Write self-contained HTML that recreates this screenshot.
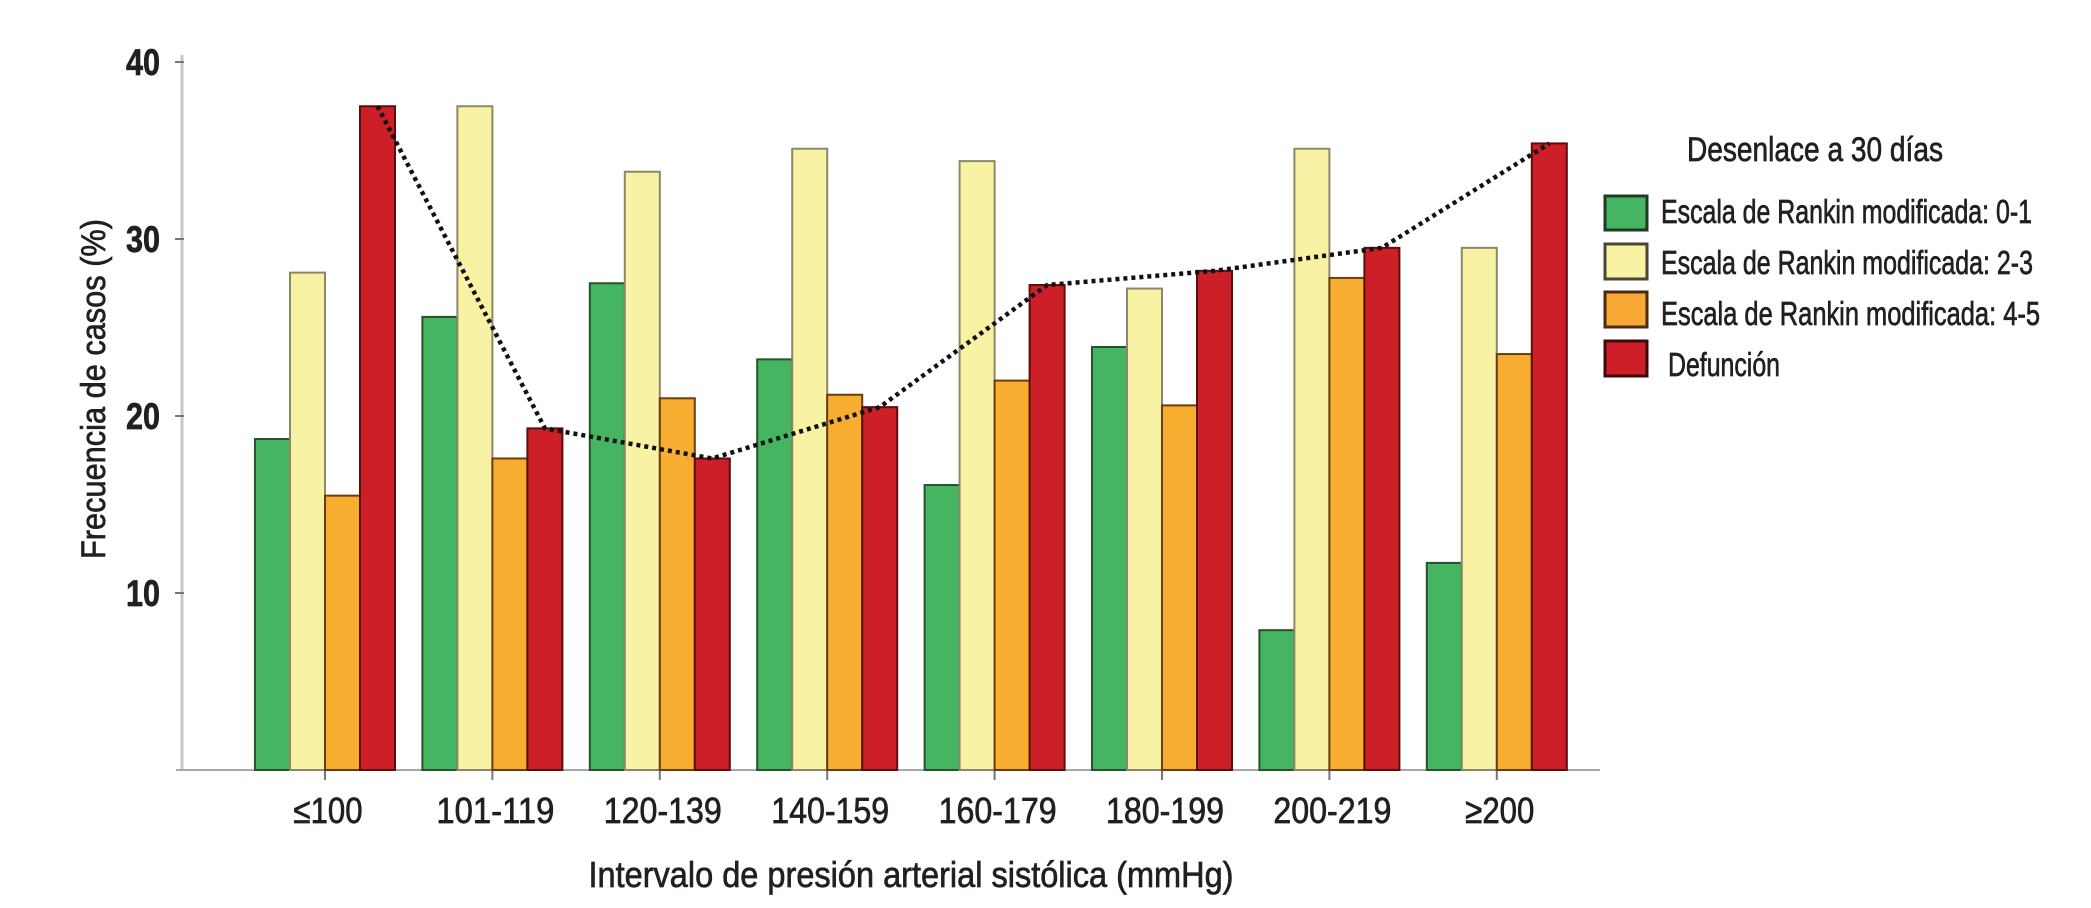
<!DOCTYPE html>
<html><head><meta charset="utf-8"><style>
html,body{margin:0;padding:0;background:#fff;}
svg{display:block;}
text{font-family:"Liberation Sans Narrow","Liberation Sans",sans-serif;fill:#231f20;stroke:#231f20;stroke-width:0.7px;}
</style></head><body>
<svg id="chart" width="2091" height="908" viewBox="0 0 2091 908" xmlns="http://www.w3.org/2000/svg">
<g id="axes"></g>
<g id="bars"></g>
<g id="labels"></g>
<g id="trend"></g>
<g id="legend">
  <text x="1687" y="161" font-size="34" textLength="256" lengthAdjust="spacingAndGlyphs">Desenlace a 30 días</text>
  <rect x="1605" y="196" width="42" height="34" fill="#45b562" stroke="#1f3a22" stroke-width="3"/>
  <rect x="1605" y="244" width="42" height="35" fill="#f8f2a4" stroke="#4a4534" stroke-width="3"/>
  <rect x="1605" y="292" width="42" height="35" fill="#f7a934" stroke="#4a2a10" stroke-width="3"/>
  <rect x="1605" y="341" width="42" height="35" fill="#cc1f27" stroke="#3a0a0a" stroke-width="3"/>
  <text x="1661" y="223" font-size="33" textLength="371" lengthAdjust="spacingAndGlyphs">Escala de Rankin modificada: 0-1</text>
  <text x="1661" y="274" font-size="33" textLength="372" lengthAdjust="spacingAndGlyphs">Escala de Rankin modificada: 2-3</text>
  <text x="1661" y="325" font-size="33" textLength="379" lengthAdjust="spacingAndGlyphs">Escala de Rankin modificada:  4-5</text>
  <text x="1668" y="376" font-size="33" textLength="112" lengthAdjust="spacingAndGlyphs">Defunción</text>
</g>
<text transform="translate(105,389) rotate(-90)" text-anchor="middle" font-size="34" textLength="340" lengthAdjust="spacingAndGlyphs">Frecuencia de casos (%)</text>
<text x="911" y="887" text-anchor="middle" font-size="36" textLength="645" lengthAdjust="spacingAndGlyphs">Intervalo de presión arterial sistólica (mmHg)</text>
</svg>
<script>
const categories = ["≤100","101-119","120-139","140-159","160-179","180-199","200-219","≥200"];
const mrs01 = [18.7, 25.6, 27.5, 23.2, 16.1, 23.9, 7.9, 11.7];
const mrs23 = [28.1, 37.5, 33.8, 35.1, 34.4, 27.2, 35.1, 29.5];
const mrs45 = [15.5, 17.6, 21.0, 21.2, 22.0, 20.6, 27.8, 23.5];
const death = [37.5, 19.3, 17.6, 20.5, 27.4, 28.2, 29.5, 35.4];
const yTicks = [10, 20, 30, 40];

const NS = "http://www.w3.org/2000/svg";
const y0 = 770, pxPerUnit = 17.7;
function yScale(v){ return y0 - v * pxPerUnit; }
const groupStart = 255, groupStep = 167.4, barW = 35;
function xGroup(i){ return groupStart + i * groupStep; }
function mk(tag, attrs, parent){
  const el = document.createElementNS(NS, tag);
  for (const k in attrs) el.setAttribute(k, attrs[k]);
  parent.appendChild(el);
  return el;
}
const axes = document.getElementById('axes');
const labels = document.getElementById('labels');
let el = mk('line', {x1:182, y1:55, x2:182, y2:y0, stroke:'#c8c6c6', 'stroke-width':3}, axes);


el = mk('line', {x1:176, y1:y0, x2:1600, y2:y0, stroke:'#a9a7a7', 'stroke-width':2}, axes);


yTicks.forEach(t => {
  const yy = yScale(t);
  let tk = mk('line', {x1:175, y1:yy, x2:184, y2:yy, stroke:'#777', 'stroke-width':2}, axes);
  
  
  let lb = mk('text', {x:160, y:yy + 13, 'text-anchor':'end', 'font-size':37, 'font-weight':'bold', textLength:34, lengthAdjust:'spacingAndGlyphs'}, labels);
  lb.textContent = t;
  
  
});
const bars = document.getElementById('bars');
const series = [
  {vals: mrs01, fill:'#45b562', stroke:'#24532c', name:'mrs-0-1'},
  {vals: mrs23, fill:'#f8f2a4', stroke:'#8d8668', name:'mrs-2-3'},
  {vals: mrs45, fill:'#f7ae30', stroke:'#6a3d10', name:'mrs-4-5'},
  {vals: death, fill:'#cc1f27', stroke:'#5a0e0e', name:'death'}
];
categories.forEach((c, i) => {
  const gx = xGroup(i);
  series.forEach((s, j) => {
    const v = s.vals[i];
    const r = mk('rect', {x: gx + j*barW, y: yScale(v), width: barW, height: y0 - yScale(v), fill: s.fill, stroke: s.stroke, 'stroke-width': 2}, bars);
    
    
  });
  const cx = gx + 2*barW;
  const tk = mk('line', {x1:cx, y1:y0, x2:cx, y2:y0+10, stroke:'#777', 'stroke-width':2}, axes);
  
  
  const lb = mk('text', {x:cx + 3, y:823, 'text-anchor':'middle', 'font-size':36, textLength: (c.length > 4 ? 118 : 69), lengthAdjust:'spacingAndGlyphs'}, labels);
  lb.textContent = c;
  
  
});
const trend = document.getElementById('trend');
const pts = death.map((v, i) => (xGroup(i) + 3.5*barW) + ',' + yScale(v)).join(' ');
const pl = mk('polyline', {points: pts, fill:'none', stroke:'#111', 'stroke-width':4.5, 'stroke-dasharray':'4 4'}, trend);


</script>
</body></html>
